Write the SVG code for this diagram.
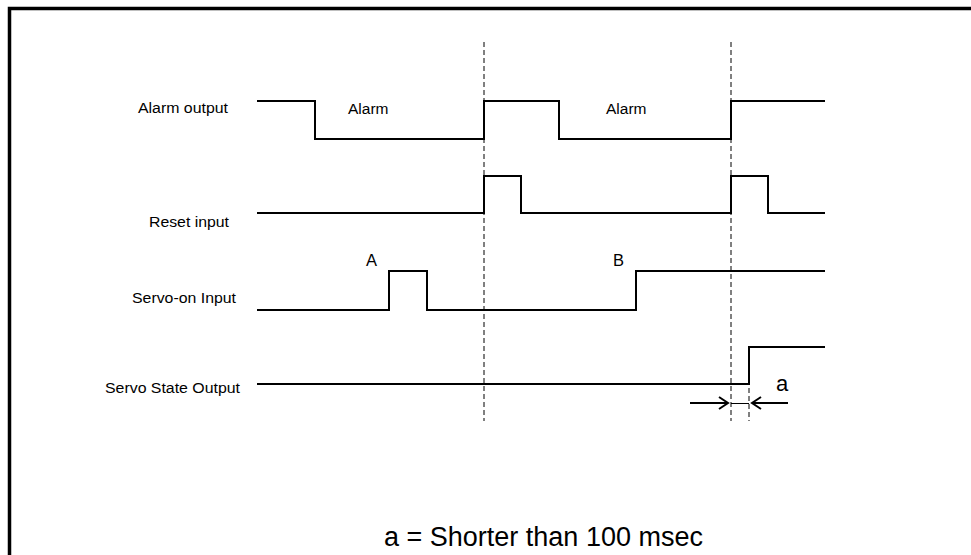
<svg xmlns="http://www.w3.org/2000/svg" width="971" height="555" viewBox="0 0 971 555">
<style>
.sig{fill:none;stroke:#000;stroke-width:2;stroke-linejoin:miter}
.dash{fill:none;stroke:#000;stroke-width:1;stroke-dasharray:5 3}
.lbl{font-family:"Liberation Sans",Arial,sans-serif;font-size:15.5px;fill:#000}
.arr{fill:none;stroke:#000;stroke-width:2}
</style>
<rect x="9.5" y="8.5" width="980" height="580" fill="#fff" stroke="#000" stroke-width="3.5"/>
<g id="label-alarm-output"><text class="lbl" x="138" y="113" textLength="90" lengthAdjust="spacingAndGlyphs">Alarm output</text></g>
<g id="label-reset-input"><text class="lbl" x="149" y="227" textLength="80" lengthAdjust="spacingAndGlyphs">Reset input</text></g>
<g id="label-servo-on"><text class="lbl" x="132" y="303" textLength="104" lengthAdjust="spacingAndGlyphs">Servo-on Input</text></g>
<g id="label-servo-state"><text class="lbl" x="105" y="393" textLength="135" lengthAdjust="spacingAndGlyphs">Servo State Output</text></g>
<g id="signals">
<polyline id="alarm-output" class="sig" points="257,101 315,101 315,139 484,139 484,101 559,101 559,139 731,139 731,101 825,101"/>
<polyline id="reset-input" class="sig" points="257,213 484,213 484,176 521,176 521,213 731,213 731,176 768,176 768,213 825,213"/>
<polyline id="servo-on-input" class="sig" points="257,310 389,310 389,271 427,271 427,310 636,310 636,271 825,271"/>
<polyline id="servo-state-output" class="sig" points="257,384 749,384 749,347 825,347"/>
</g>
<g id="alarm-texts">
<text class="lbl" x="348" y="114">Alarm</text>
<text class="lbl" x="606" y="114">Alarm</text>
</g>
<g id="markers">
<text class="lbl" x="366" y="266" style="font-size:16.5px">A</text>
<text class="lbl" x="613" y="266" style="font-size:16.5px">B</text>
</g>
<g id="connectors">
<line class="dash" x1="484" y1="42" x2="484" y2="421"/>
<line class="dash" x1="731" y1="42" x2="731" y2="421"/>
<line class="dash" x1="749" y1="388" x2="749" y2="421"/>
<line x1="731" y1="403.5" x2="749" y2="403.5" stroke="#000" stroke-width="1"/>
<path class="arr" d="M690,403 H728 M719,397 L728,403 L719,409"/>
<path class="arr" d="M788,403 H752 M761,397 L752,403 L761,409"/>
</g>
<g id="label-a"><text class="lbl" x="776" y="391" style="font-size:22px">a</text></g>
<g id="note"><text class="lbl" x="384" y="546" style="font-size:27px">a = Shorter than 100 msec</text></g>
</svg>
